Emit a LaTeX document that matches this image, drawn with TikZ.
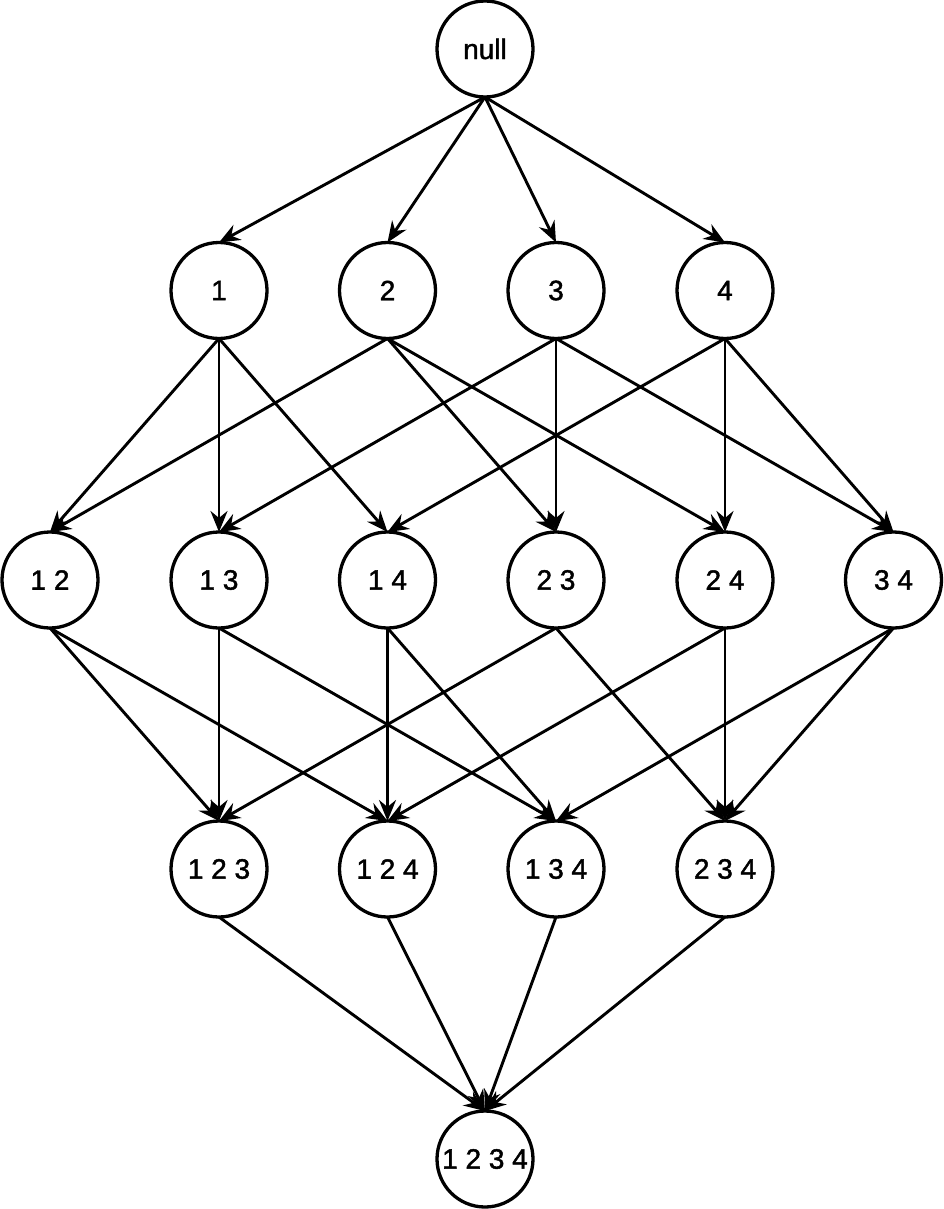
\documentclass[tikz,border=0pt]{standalone}
\usepackage{fontspec}
\setmainfont{Liberation Sans}
\newfontfamily\nodefont[FakeBold=1.5]{Liberation Sans}
\usetikzlibrary{arrows.meta}
\begin{document}
\begin{tikzpicture}[x=1pt,y=-1pt,
  setnode/.style={circle,draw=black,line width=3.3pt,minimum size=96pt,inner sep=0pt,outer sep=0pt,
    font=\nodefont\fontsize{28}{32}\selectfont},
  edge/.style={draw=black,line width=2.9pt,-{Stealth[length=21pt,width=17pt,inset=7pt]}}]
\useasboundingbox (0,0) rectangle (943,1209);
\fill[white] (0,0) rectangle (943,1209);
% level 0
\node[setnode] (n0) at (485,49) {null};
% level 1
\node[setnode] (a1) at (219,290.5) {1};
\node[setnode] (a2) at (387.5,290.5) {2};
\node[setnode] (a3) at (556,290.5) {3};
\node[setnode] (a4) at (725,290.5) {4};
% level 2
\node[setnode] (b12) at (50,580) {1 2};
\node[setnode] (b13) at (219,580) {1 3};
\node[setnode] (b14) at (387.5,580) {1 4};
\node[setnode] (b23) at (556,580) {2 3};
\node[setnode] (b24) at (725,580) {2 4};
\node[setnode] (b34) at (893.5,580) {3 4};
% level 3
\node[setnode] (c123) at (219,869) {1 2 3};
\node[setnode] (c124) at (387.5,869) {1 2 4};
\node[setnode] (c134) at (556,869) {1 3 4};
\node[setnode] (c234) at (725,869) {2 3 4};
% level 4
\node[setnode] (d) at (485,1159) {1 2 3 4};
% edges level 0 -> 1
\foreach \t in {a1,a2,a3,a4} \draw[edge] (n0.south) -- (\t.north);
% edges level 1 -> 2
\draw[edge] (a1.south) -- (b12.north);
\draw[edge] (a1.south) -- (b13.north);
\draw[edge] (a1.south) -- (b14.north);
\draw[edge] (a2.south) -- (b12.north);
\draw[edge] (a2.south) -- (b23.north);
\draw[edge] (a2.south) -- (b24.north);
\draw[edge] (a3.south) -- (b13.north);
\draw[edge] (a3.south) -- (b23.north);
\draw[edge] (a3.south) -- (b34.north);
\draw[edge] (a4.south) -- (b14.north);
\draw[edge] (a4.south) -- (b24.north);
\draw[edge] (a4.south) -- (b34.north);
% edges level 2 -> 3
\draw[edge] (b12.south) -- (c123.north);
\draw[edge] (b12.south) -- (c124.north);
\draw[edge] (b13.south) -- (c123.north);
\draw[edge] (b13.south) -- (c134.north);
\draw[edge] (b14.south) -- (c124.north);
\draw[edge] (b14.south) -- (c134.north);
\draw[edge] (b23.south) -- (c123.north);
\draw[edge] (b23.south) -- (c234.north);
\draw[edge] (b24.south) -- (c124.north);
\draw[edge] (b24.south) -- (c234.north);
\draw[edge] (b34.south) -- (c134.north);
\draw[edge] (b34.south) -- (c234.north);
% edges level 3 -> 4
\foreach \s in {c123,c124,c134,c234} \draw[edge] (\s.south) -- (d.north);
\end{tikzpicture}
\end{document}
